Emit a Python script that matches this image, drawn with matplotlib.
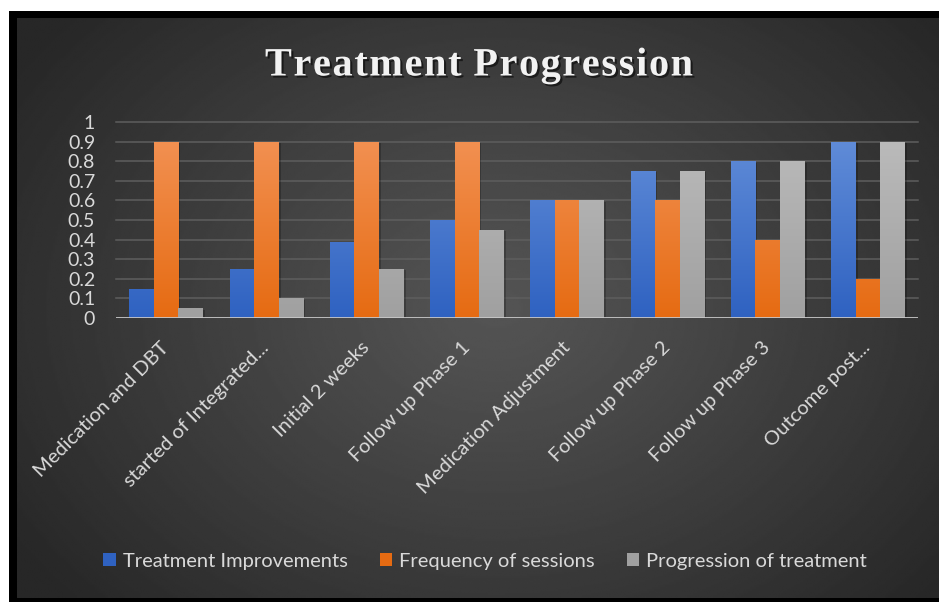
import numpy as np
import matplotlib
matplotlib.use("Agg")
import matplotlib.pyplot as plt
from matplotlib.patches import Rectangle, Patch
from matplotlib.font_manager import FontProperties
from matplotlib.transforms import ScaledTranslation
from matplotlib import patheffects as pe

# ------------------------------------------------------------
# Data
# ------------------------------------------------------------
categories = [
    "Medication and DBT",
    "started of Integrated...",
    "Initial 2 weeks",
    "Follow up Phase 1",
    "Medication Adjustment",
    "Follow up Phase 2",
    "Follow up Phase 3",
    "Outcome post...",
]
treatment_improvements = [0.15, 0.25, 0.39, 0.50, 0.60, 0.75, 0.80, 0.90]
frequency_of_sessions = [0.90, 0.90, 0.90, 0.90, 0.60, 0.60, 0.40, 0.20]
progression_of_treatment = [0.05, 0.10, 0.25, 0.45, 0.60, 0.75, 0.80, 0.90]
series_names = ["Treatment Improvements", "Frequency of sessions", "Progression of treatment"]
y_ticks = [0, 0.1, 0.2, 0.3, 0.4, 0.5, 0.6, 0.7, 0.8, 0.9, 1]
y_tick_labels = ["0", "0.1", "0.2", "0.3", "0.4", "0.5", "0.6", "0.7", "0.8", "0.9", "1"]
title = "Treatment Progression"

# (top colour, bottom colour) for each series
bar_colors = [
    ("#6590da", "#2f62c1"),
    ("#f39458", "#e66b12"),
    ("#bdbdbd", "#a0a0a0"),
]

text_color = "#d9d9d9"
font = "Lato"

W, H = 939, 602
fig = plt.figure(figsize=(W / 100, H / 100), dpi=100)
fig.patch.set_facecolor("white")

# black frame
fig.patches.append(Rectangle((9 / W, 0), 1 - 9 / W, (H - 11) / H,
                             transform=fig.transFigure, facecolor="black",
                             edgecolor="none", zorder=0))

# radial background panel
bg_left, bg_bottom = 17 / W, 4 / H
bg_w, bg_h = 1 - bg_left, (H - 18) / H - bg_bottom
bg = fig.add_axes([bg_left, bg_bottom, bg_w, bg_h], zorder=1)
gy, gx = np.mgrid[0:1:300j, 0:1:500j]
r = np.sqrt(((gx - 0.52) / 0.62) ** 2 + ((gy - 0.5) / 0.75) ** 2)
r = np.clip(r, 0, 1)
shade = 0.33 - (0.33 - 0.155) * r ** 1.1
bg.imshow(shade, cmap="gray", vmin=0, vmax=1, extent=(0, 1, 0, 1),
          aspect="auto", interpolation="bilinear", origin="lower")
bg.set_axis_off()

# main chart
ax = fig.add_axes([116 / W, (H - 318) / H, (918 - 116) / W, (318 - 122) / H], zorder=2)
ax.patch.set_alpha(0)

x = np.arange(len(categories))
bar_w = 0.245
all_series = [treatment_improvements, frequency_of_sessions, progression_of_treatment]

for i, values in enumerate(all_series):
    top_c, bot_c = bar_colors[i]
    bars = ax.bar(x + (i - 1) * bar_w, values, width=bar_w,
                  color=bot_c, edgecolor="none", zorder=3,
                  path_effects=[pe.withSimplePatchShadow(offset=(1.5, -1), shadow_rgbFace="black", alpha=0.22)])
    cmap = matplotlib.colors.LinearSegmentedColormap.from_list(f"g{i}", [bot_c, top_c])
    grad = np.linspace(0, 1, 128).reshape(-1, 1)
    for rect in bars:
        bx, bwid = rect.get_x(), rect.get_width()
        im = ax.imshow(grad, cmap=cmap, aspect="auto", origin="lower",
                       extent=(bx, bx + bwid, 0, 1), zorder=4)
        im.set_clip_path(rect)

ax.set_xlim(-0.5, len(categories) - 0.5)
ax.set_ylim(0, 1)

# gridlines
for yv in y_ticks[1:]:
    ax.axhline(yv, color="#5e5e5e", lw=1.1, zorder=1, clip_on=False)
ax.axhline(0, color="#c8c8c8", lw=2, zorder=5)

for s in ax.spines.values():
    s.set_visible(False)

ax.set_yticks(y_ticks)
ax.set_yticklabels(y_tick_labels, fontsize=14, color=text_color, family=font)
ax.tick_params(axis="y", length=0, pad=15)

ax.set_xticks(x)
ax.set_xticklabels(categories, rotation=45, ha="right", va="top",
                   fontsize=14.5, color=text_color, family=font)
ax.tick_params(axis="x", length=0, pad=12)
# nudge the slanted labels so they end just right of each category centre
nudge = ScaledTranslation(6 / 100, -4 / 100, fig.dpi_scale_trans)
for lbl in ax.get_xticklabels():
    lbl.set_transform(lbl.get_transform() + nudge)

# title, letter-spaced: each character placed on its own
renderer = fig.canvas.get_renderer()
tfp = FontProperties(family="Liberation Serif", weight="bold", size=29)


def text_w(s):
    return renderer.get_text_width_height_descent(s, tfp, ismath=False)[0]


space_w = text_w("T T") - text_w("TT")
char_w = [space_w if c == " " else text_w(c) for c in title]
span = 428
extra = (span - sum(char_w)) / (len(title) - 1)
cx = 479 - span / 2
for c, w in zip(title, char_w):
    if c != " ":
        fig.text(cx / W, 1 - 66 / H, c, ha="left", va="center",
                 fontproperties=tfp, color="#f2f2f2", zorder=5,
                 path_effects=[pe.withSimplePatchShadow(offset=(1.5, -1.5), shadow_rgbFace="black", alpha=0.55)])
    cx += w + extra

# legend
handles = [Patch(facecolor=bar_colors[i][1], edgecolor="none", label=series_names[i])
           for i in range(3)]
leg = fig.legend(handles=handles, loc="center", bbox_to_anchor=(485 / W, 1 - 561 / H),
                 ncol=3, frameon=False, handlelength=0.6, handleheight=0.6,
                 handletextpad=0.35, columnspacing=1.6,
                 prop={"family": font, "size": 14.5})
for t in leg.get_texts():
    t.set_color(text_color)
leg.set_zorder(5)

fig.savefig("out.png", dpi=100, facecolor=fig.get_facecolor())
